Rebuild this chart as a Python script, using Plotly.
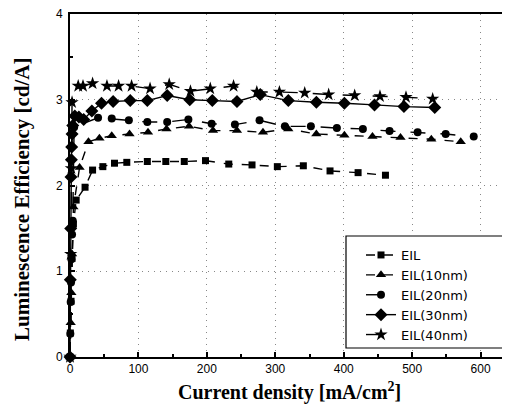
import plotly.graph_objects as go

# ---- data ----
eil_x = [0, 0.5, 1.5, 3, 5, 9, 22, 33, 48, 65, 83, 113, 140, 167, 198, 232, 266, 303, 341, 380, 421, 461]
eil_y = [0, 0.28, 0.65, 1.15, 1.55, 1.83, 1.98, 2.18, 2.22, 2.26, 2.27, 2.28, 2.28, 2.28, 2.29, 2.25, 2.24, 2.22, 2.23, 2.17, 2.15, 2.12]

e10_x = [0, 1, 2, 3, 5, 14, 27, 43, 61, 87, 114, 141, 174, 209, 244, 282, 319, 360, 401, 442, 483, 528, 571]
e10_y = [0, 0.4, 0.75, 1.2, 1.75, 2.21, 2.51, 2.55, 2.58, 2.60, 2.62, 2.66, 2.69, 2.64, 2.64, 2.62, 2.66, 2.60, 2.585, 2.57, 2.56, 2.54, 2.51]

e20_x = [0, 0.5, 1, 1.5, 2, 3, 4, 6, 41, 61, 86, 113, 142, 173, 207, 241, 277, 314, 352, 390, 428, 467, 508, 549, 590]
e20_y = [0, 0.27, 0.64, 0.87, 1.14, 1.43, 1.59, 2.68, 2.79, 2.78, 2.76, 2.74, 2.74, 2.77, 2.72, 2.71, 2.76, 2.69, 2.69, 2.67, 2.66, 2.635, 2.62, 2.60, 2.57]

e30_x = [0, 0.5, 1, 1.5, 2, 2.5, 3, 4, 7, 13, 20, 32, 46, 63, 88, 113, 142, 175, 208, 244, 278, 319, 360, 401, 445, 488, 533]
e30_y = [0, 0.9, 1.5, 2.1, 2.3, 2.45, 2.6, 2.7, 2.81, 2.8, 2.77, 2.87, 2.96, 2.98, 2.99, 2.99, 3.05, 3.0, 2.99, 2.98, 3.06, 2.99, 2.97, 2.96, 2.94, 2.92, 2.91]

e40_x = [0, 1, 2, 3, 12, 19, 33, 54, 71, 90, 117, 145, 176, 205, 239, 273, 306, 343, 378, 416, 453, 491, 530]
e40_y = [0, 1.2, 2.2, 2.97, 3.16, 3.16, 3.19, 3.16, 3.16, 3.16, 3.13, 3.18, 3.10, 3.13, 3.16, 3.09, 3.09, 3.08, 3.06, 3.05, 3.04, 3.03, 3.01]

names = ["EIL", "EIL(10nm)", "EIL(20nm)", "EIL(30nm)", "EIL(40nm)"]
xs = [eil_x, e10_x, e20_x, e30_x, e40_x]
ys = [eil_y, e10_y, e20_y, e30_y, e40_y]
symbols = ["square", "triangle-up", "circle", "diamond", "star"]
sizes = [7, 9, 8, 10, 10]
dashes = ["dash", "dash", "longdash", "solid", "longdash"]

x_ticks = [0, 100, 200, 300, 400, 500, 600]
y_ticks = [0, 1, 2, 3, 4]

fig = go.Figure()
for n, x, y, s, sz, d in zip(names, xs, ys, symbols, sizes, dashes):
    fig.add_trace(go.Scatter(
        x=x, y=y, name=n, mode="lines+markers",
        line=dict(color="black", width=1.4, dash=d),
        marker=dict(symbol=s, size=sz, color="black"),
        cliponaxis=False,
    ))

# page body has an 8px margin: figure placed at (8,8) in the window
OFF = 8
W, H = 502, 401
# plot area in window pixels: x 70..510, y 14..357
L, R, T, B = 70 - OFF, 0, 14 - OFF, (H + OFF) - 357
pw, ph = W - L - R, H - T - B

def px2paper(px, py):
    return (px - 70) / pw, (357 - py) / ph

lx0, ly0 = px2paper(346, 236)
lx1, ly1 = px2paper(508, 348)

fig.add_shape(type="rect", xref="paper", yref="paper", x0=lx0, y0=ly1, x1=lx1, y1=ly0,
              line=dict(color="black", width=1.2), fillcolor="white", layer="above")

legx, legy = px2paper(361, 240)
fig.update_layout(
    width=W, height=H,
    margin=dict(l=L, r=R, t=T, b=B),
    paper_bgcolor="white", plot_bgcolor="white",
    showlegend=True,
    legend=dict(x=legx, y=legy, xanchor="left", yanchor="top",
                bgcolor="rgba(0,0,0,0)", borderwidth=0,
                font=dict(family="DejaVu Sans", size=13, color="black"),
                tracegroupgap=0),
    font=dict(family="Liberation Sans, Arial", color="black"),
)
fig.update_xaxes(
    range=[0, 643], tickvals=x_ticks, ticktext=[str(v) for v in x_ticks],
    showline=True, linecolor="black", linewidth=2, mirror=True,
    ticks="inside", ticklen=5, tickcolor="black", tickwidth=1.5,
    minor=dict(dtick=50, ticks="inside", ticklen=3, tickcolor="black", showgrid=False),
    showgrid=True, gridcolor="#888", griddash="1px,5px", gridwidth=1,
    zeroline=False, tickfont=dict(size=12, family="Liberation Sans, Arial", color="black"),
)
fig.update_yaxes(
    range=[0, 4], tickvals=y_ticks[:-1], ticktext=[str(v) for v in y_ticks[:-1]],
    showline=True, linecolor="black", linewidth=2, mirror=False,
    ticks="inside", ticklen=5, tickcolor="black", tickwidth=1.5,
    minor=dict(dtick=0.5, ticks="inside", ticklen=3, tickcolor="black", showgrid=False),
    showgrid=True, gridcolor="#888", griddash="1px,5px", gridwidth=1,
    zeroline=False, ticklabelstandoff=3,
    tickfont=dict(size=12, family="Liberation Sans, Arial", color="black"),
)
# top tick label drawn as annotation (it sits at the very edge of the page)
fig.add_annotation(text=str(y_ticks[-1]), xref="paper", yref="y", x=0, y=y_ticks[-1],
                   xanchor="right", yanchor="middle", xshift=-5, showarrow=False,
                   font=dict(size=12, family="Liberation Sans, Arial", color="black"))

tx, ty = px2paper(289, 392)
fig.add_annotation(text="<b>Current density [mA/cm<sup>2</sup>]</b>", xref="paper", yref="paper",
                   x=tx, y=ty, xanchor="center", yanchor="middle", showarrow=False,
                   font=dict(family="Liberation Serif, Times New Roman", size=20, color="black"))
yx, yy = px2paper(22, 200)
fig.add_annotation(text="<b>Luminescence Efficiency [cd/A]</b>", xref="paper", yref="paper",
                   x=yx, y=yy, xanchor="center", yanchor="middle", showarrow=False, textangle=-90,
                   font=dict(family="Liberation Serif, Times New Roman", size=21, color="black"))

fig.write_html("out.html")
